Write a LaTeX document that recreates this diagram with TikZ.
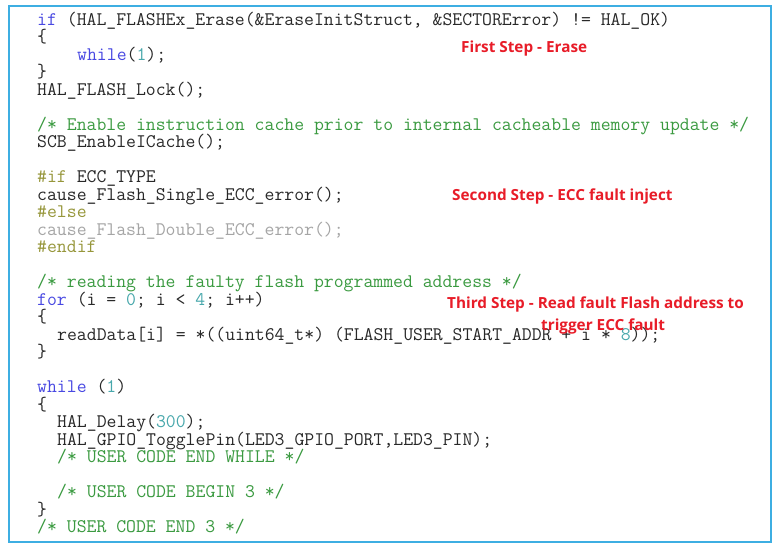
\documentclass[tikz,border=0pt]{standalone}
\usepackage{xcolor}
\usepackage{fontspec}
\newfontfamily\notefont{Open Sans}
\usetikzlibrary{positioning}

\definecolor{framecol}{RGB}{62,174,226}
\definecolor{codetext}{RGB}{40,40,40}
\definecolor{kwblue}{RGB}{72,72,226}
\definecolor{numteal}{RGB}{72,168,172}
\definecolor{cmtgreen}{RGB}{58,154,64}
\definecolor{preolive}{RGB}{150,150,58}
\definecolor{inactive}{RGB}{165,165,165}
\definecolor{notered}{RGB}{232,28,40}

\newcommand{\kw}[1]{\textcolor{kwblue}{#1}}
\newcommand{\numc}[1]{\textcolor{numteal}{#1}}
\newcommand{\cmtx}[1]{\textcolor{cmtgreen}{#1}}
\newcommand{\ppdir}[1]{\textcolor{preolive}{#1}}

\tikzset{
    code/.style={anchor=base west, inner sep=0pt, text=codetext,
        font=\ttfamily\fontsize{19.2}{17.5}\selectfont},
    stepnote/.style={anchor=base west, inner sep=0pt, text=notered,
        font=\notefont\bfseries\fontsize{15.3}{22}\selectfont},
    codeframe/.style={draw=framecol, line width=2pt}
}

\begin{document}
\begin{tikzpicture}[x=1pt, y=-1pt]
    \useasboundingbox[fill=white] (0,0) rectangle (779,549);

    % Frame round the listing.
    \draw[codeframe] (9,6) rectangle (771,542);

    % Erase block.
    \node[code] (eraseif) at (37,25) {\kw{if} (HAL\_FLASHEx\_Erase(\&EraseInitStruct, \&SECTORError) != HAL\_OK)};
    \node[code] (eraseopen) at (37,42.5) {\{};
    \node[code] (erasewait) at (77,60) {\kw{while}(\numc{1});};
    \node[code] (eraseclose) at (37,77.5) {\}};
    \node[code] (flashlock) at (37,95) {HAL\_FLASH\_Lock();};

    % Cache.
    \node[code] (cachecmt) at (37,130) {\cmtx{/* Enable instruction cache prior to internal cacheable memory update */}};
    \node[code] (cacheon) at (37,147.5) {SCB\_EnableICache();};

    % ECC fault inject.
    \node[code] (eccif) at (37,182.5) {\ppdir{\#if} ECC\_TYPE};
    \node[code] (eccsingle) at (37,200) {cause\_Flash\_Single\_ECC\_error();};
    \node[code] (eccelse) at (37,217.5) {\ppdir{\#else}};
    \node[code] (eccdouble) at (37,235) {\textcolor{inactive}{cause\_Flash\_Double\_ECC\_error();}};
    \node[code] (eccend) at (37,252.5) {\ppdir{\#endif}};

    % Read loop.
    \node[code] (readcmt) at (37,287.5) {\cmtx{/* reading the faulty flash programmed address */}};
    \node[code] (readfor) at (37,305) {\kw{for} (i = \numc{0}; i < \numc{4}; i++)};
    \node[code] (readopen) at (37,322.5) {\{};
    \node[code] (readdata) at (57,340) {readData[i] = *((uint64\_t*) (FLASH\_USER\_START\_ADDR + i * \numc{8}));};
    \node[code] (readclose) at (37,357.5) {\}};

    % Main loop.
    \node[code] (mainwhile) at (37,392.5) {\kw{while} (\numc{1})};
    \node[code] (mainopen) at (37,410) {\{};
    \node[code] (maindelay) at (57,427.5) {HAL\_Delay(\numc{300});};
    \node[code] (maintoggle) at (57,445) {HAL\_GPIO\_TogglePin(LED3\_GPIO\_PORT,LED3\_PIN);};
    \node[code] (mainendcmt) at (57,462.5) {\cmtx{/* USER CODE END WHILE */}};
    \node[code] (mainbegin) at (57,497.5) {\cmtx{/* USER CODE BEGIN 3 */}};
    \node[code] (mainclose) at (37,515) {\}};
    \node[code] (mainend) at (37,532.5) {\cmtx{/* USER CODE END 3 */}};

    % Step notes.
    \node[stepnote] (firststep) at (461,52) {First Step - Erase};
    \node[stepnote] (secondstep) at (452,200) {Second Step - ECC fault inject};
    \node[stepnote] (thirdstep) at (447,308) {Third Step - Read fault Flash address to};
    \node[stepnote] (thirdtrigger) at (541,330) {trigger ECC fault};
\end{tikzpicture}
\end{document}
